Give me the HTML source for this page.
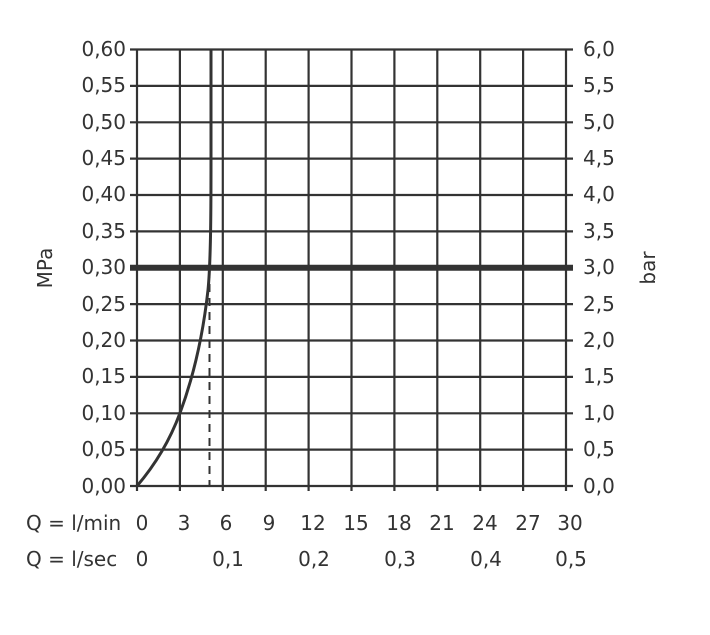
<!DOCTYPE html>
<html><head><meta charset="utf-8"><style>
body{margin:0;background:#fff;}
svg text{font-family:"DejaVu Sans","Liberation Sans",sans-serif;font-size:20px;fill:#333;}
</style></head><body>
<svg width="710" height="630" viewBox="0 0 710 630" xmlns="http://www.w3.org/2000/svg">
<g stroke="#333" stroke-width="2.2" fill="none">
<line x1="130" y1="49.5" x2="573" y2="49.5"/>
<line x1="130" y1="85.9" x2="573" y2="85.9"/>
<line x1="130" y1="122.3" x2="573" y2="122.3"/>
<line x1="130" y1="158.6" x2="573" y2="158.6"/>
<line x1="130" y1="195" x2="573" y2="195"/>
<line x1="130" y1="231.4" x2="573" y2="231.4"/>
<line x1="130" y1="304.1" x2="573" y2="304.1"/>
<line x1="130" y1="340.5" x2="573" y2="340.5"/>
<line x1="130" y1="376.9" x2="573" y2="376.9"/>
<line x1="130" y1="413.3" x2="573" y2="413.3"/>
<line x1="130" y1="449.6" x2="573" y2="449.6"/>
<line x1="130" y1="486" x2="573" y2="486"/>
<line x1="137" y1="49.5" x2="137" y2="491"/>
<line x1="179.9" y1="49.5" x2="179.9" y2="491"/>
<line x1="222.8" y1="49.5" x2="222.8" y2="491"/>
<line x1="265.7" y1="49.5" x2="265.7" y2="491"/>
<line x1="308.6" y1="49.5" x2="308.6" y2="491"/>
<line x1="351.5" y1="49.5" x2="351.5" y2="491"/>
<line x1="394.4" y1="49.5" x2="394.4" y2="491"/>
<line x1="437.3" y1="49.5" x2="437.3" y2="491"/>
<line x1="480.2" y1="49.5" x2="480.2" y2="491"/>
<line x1="523.1" y1="49.5" x2="523.1" y2="491"/>
<line x1="566" y1="49.5" x2="566" y2="491"/>
</g>
<line x1="130" y1="267.8" x2="573" y2="267.8" stroke="#333" stroke-width="6"/>
<line x1="209.5" y1="270" x2="209.5" y2="486" stroke="#333" stroke-width="2" stroke-dasharray="8,6"/>
<path d="M137,486 C155,465 170,440 180,413 C193,378 203,335 208,290 C211,260 211,200 211,160 L211,49.5" stroke="#333" stroke-width="3" fill="none"/>
<g text-anchor="end">
<text x="126" y="56">0,60</text><text x="126" y="92">0,55</text><text x="126" y="129">0,50</text>
<text x="126" y="165">0,45</text><text x="126" y="201">0,40</text><text x="126" y="238">0,35</text>
<text x="126" y="274">0,30</text><text x="126" y="311">0,25</text><text x="126" y="347">0,20</text>
<text x="126" y="383">0,15</text><text x="126" y="420">0,10</text><text x="126" y="456">0,05</text>
<text x="126" y="493">0,00</text>
</g>
<g>
<text x="583" y="56">6,0</text><text x="583" y="92">5,5</text><text x="583" y="129">5,0</text>
<text x="583" y="165">4,5</text><text x="583" y="201">4,0</text><text x="583" y="238">3,5</text>
<text x="583" y="274">3,0</text><text x="583" y="311">2,5</text><text x="583" y="347">2,0</text>
<text x="583" y="383">1,5</text><text x="583" y="420">1,0</text><text x="583" y="456">0,5</text>
<text x="583" y="493">0,0</text>
</g>
<text transform="translate(52,268) rotate(-90)" text-anchor="middle">MPa</text>
<text transform="translate(655,268) rotate(-90)" text-anchor="middle">bar</text>
<text x="26" y="530">Q = l/min</text>
<text x="26" y="566">Q = l/sec</text>
<g text-anchor="middle">
<text x="142" y="530">0</text><text x="184" y="530">3</text><text x="226" y="530">6</text>
<text x="269" y="530">9</text><text x="313" y="530">12</text><text x="356" y="530">15</text>
<text x="399" y="530">18</text><text x="442" y="530">21</text><text x="485" y="530">24</text>
<text x="528" y="530">27</text><text x="570" y="530">30</text>
<text x="142" y="566">0</text><text x="228" y="566">0,1</text><text x="314" y="566">0,2</text>
<text x="400" y="566">0,3</text><text x="486" y="566">0,4</text><text x="571" y="566">0,5</text>
</g>
</svg>
</body></html>
